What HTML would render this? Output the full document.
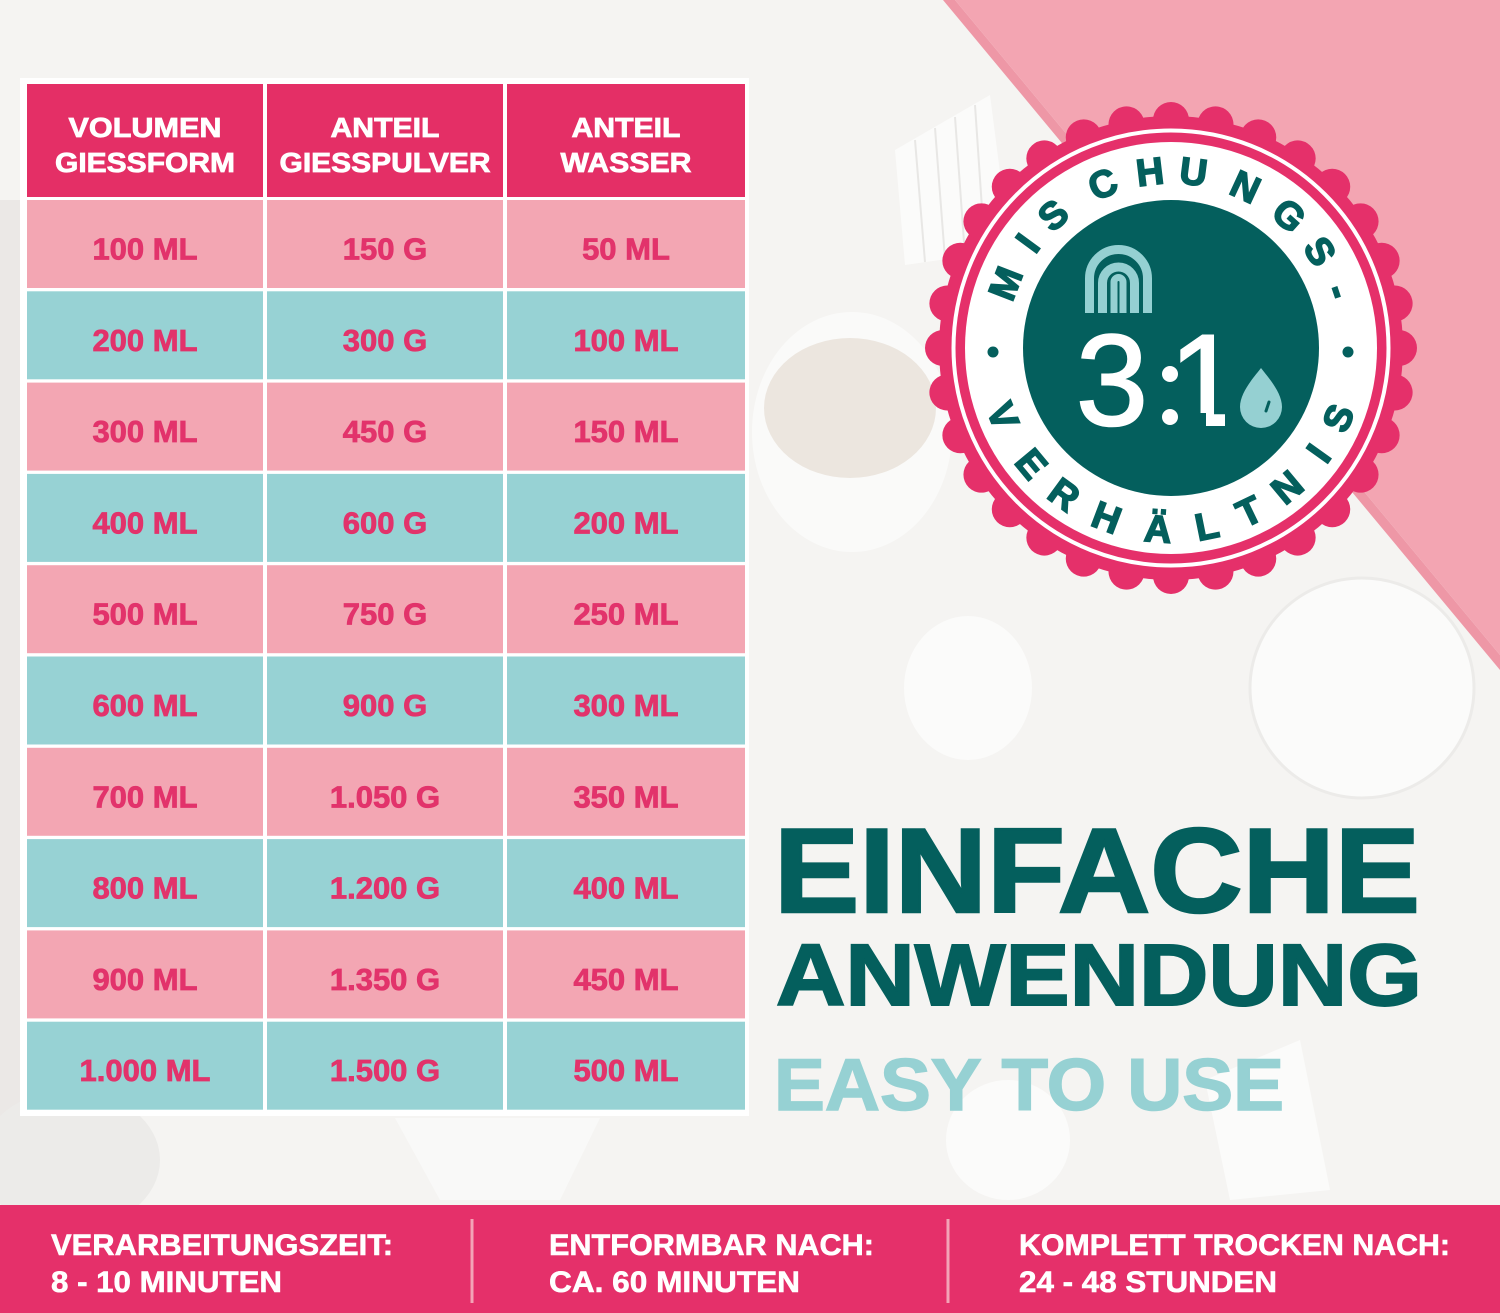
<!DOCTYPE html>
<html>
<head>
<meta charset="utf-8">
<style>
  html,body{margin:0;padding:0;background:#f5f4f2;}
  svg{display:block;}
  text{font-family:"Liberation Sans", sans-serif;font-weight:bold;}
</style>
</head>
<body>
<svg width="1500" height="1313" viewBox="0 0 1500 1313" xmlns="http://www.w3.org/2000/svg">
  <defs>
    <clipPath id="c1" clipPathUnits="userSpaceOnUse">
      <rect x="1150" y="300" width="120" height="113"/>
      <rect x="1206" y="300" width="19" height="140"/>
    </clipPath>
  </defs>
  <!-- background -->
  <rect x="0" y="0" width="1500" height="1313" fill="#f5f4f2"/>
  <rect x="0" y="200" width="20" height="1000" fill="#ebe8e6"/>
  <!-- soft background objects -->
  <ellipse cx="1362" cy="688" rx="112" ry="110" fill="#fbfbfa" stroke="#ecebe9" stroke-width="3"/>
  <ellipse cx="852" cy="432" rx="100" ry="120" fill="#fafaf9"/>
  <ellipse cx="850" cy="408" rx="86" ry="70" fill="#ece6df"/>
  <ellipse cx="968" cy="688" rx="64" ry="72" fill="#fbfbfa"/>
  <ellipse cx="1008" cy="1140" rx="62" ry="60" fill="#fbfbfa"/>
  <polygon points="1205,1080 1300,1040 1330,1190 1230,1200" fill="#fbfbfa"/>
  <polygon points="395,1118 600,1118 560,1200 440,1200" fill="#f9f9f8"/>
  <ellipse cx="70" cy="1160" rx="90" ry="70" fill="#ecebe9"/>
  <polygon points="895,150 990,95 1010,250 905,265" fill="#fbfbfa"/>
  <g stroke="#e8e7e5" stroke-width="2">
    <line x1="915" y1="140" x2="925" y2="262"/>
    <line x1="935" y1="128" x2="945" y2="259"/>
    <line x1="955" y1="117" x2="965" y2="256"/>
    <line x1="975" y1="105" x2="985" y2="253"/>
  </g>

  <!-- pink triangle -->
  <polygon points="943,0 955,0 1500,655 1500,670" fill="#ee97a6"/>
  <polygon points="955,0 1500,0 1500,655" fill="#f3a5b2"/>

  <!-- TABLE -->
  <rect x="20" y="78" width="729" height="1038" fill="#ffffff"/>
  <!-- header -->
  <rect x="27" y="84" width="236" height="113" fill="#e42f66"/>
  <rect x="267" y="84" width="236" height="113" fill="#e42f66"/>
  <rect x="507" y="84" width="238" height="113" fill="#e42f66"/>
  <g fill="#ffffff" stroke="#ffffff" stroke-width="0.8" font-size="28" text-anchor="middle">
    <text x="145" y="137" textLength="153" lengthAdjust="spacingAndGlyphs">VOLUMEN</text>
    <text x="145" y="172" textLength="180" lengthAdjust="spacingAndGlyphs">GIESSFORM</text>
    <text x="385" y="137" textLength="109" lengthAdjust="spacingAndGlyphs">ANTEIL</text>
    <text x="385" y="172" textLength="211" lengthAdjust="spacingAndGlyphs">GIESSPULVER</text>
    <text x="626" y="137" textLength="109" lengthAdjust="spacingAndGlyphs">ANTEIL</text>
    <text x="626" y="172" textLength="131" lengthAdjust="spacingAndGlyphs">WASSER</text>
  </g>

  <!-- rows -->
  <g>
    <g fill="#f3a6b3">
      <rect x="27" y="200" width="236" height="88"/><rect x="267" y="200" width="236" height="88"/><rect x="507" y="200" width="238" height="88"/>
      <rect x="27" y="382.6" width="236" height="88"/><rect x="267" y="382.6" width="236" height="88"/><rect x="507" y="382.6" width="238" height="88"/>
      <rect x="27" y="565.2" width="236" height="88"/><rect x="267" y="565.2" width="236" height="88"/><rect x="507" y="565.2" width="238" height="88"/>
      <rect x="27" y="747.8" width="236" height="88"/><rect x="267" y="747.8" width="236" height="88"/><rect x="507" y="747.8" width="238" height="88"/>
      <rect x="27" y="930.4" width="236" height="88"/><rect x="267" y="930.4" width="236" height="88"/><rect x="507" y="930.4" width="238" height="88"/>
    </g>
    <g fill="#97d2d4">
      <rect x="27" y="291.3" width="236" height="88"/><rect x="267" y="291.3" width="236" height="88"/><rect x="507" y="291.3" width="238" height="88"/>
      <rect x="27" y="473.9" width="236" height="88"/><rect x="267" y="473.9" width="236" height="88"/><rect x="507" y="473.9" width="238" height="88"/>
      <rect x="27" y="656.5" width="236" height="88"/><rect x="267" y="656.5" width="236" height="88"/><rect x="507" y="656.5" width="238" height="88"/>
      <rect x="27" y="839.1" width="236" height="88"/><rect x="267" y="839.1" width="236" height="88"/><rect x="507" y="839.1" width="238" height="88"/>
      <rect x="27" y="1021.7" width="236" height="88"/><rect x="267" y="1021.7" width="236" height="88"/><rect x="507" y="1021.7" width="238" height="88"/>
    </g>
    <g fill="#e2336b" stroke="#e2336b" stroke-width="0.8" font-size="31" text-anchor="middle">
      <text x="145" y="259.5">100 ML</text><text x="385" y="259.5">150 G</text><text x="626" y="259.5">50 ML</text>
      <text x="145" y="350.8">200 ML</text><text x="385" y="350.8">300 G</text><text x="626" y="350.8">100 ML</text>
      <text x="145" y="442.1">300 ML</text><text x="385" y="442.1">450 G</text><text x="626" y="442.1">150 ML</text>
      <text x="145" y="533.4">400 ML</text><text x="385" y="533.4">600 G</text><text x="626" y="533.4">200 ML</text>
      <text x="145" y="624.7">500 ML</text><text x="385" y="624.7">750 G</text><text x="626" y="624.7">250 ML</text>
      <text x="145" y="716">600 ML</text><text x="385" y="716">900 G</text><text x="626" y="716">300 ML</text>
      <text x="145" y="807.3">700 ML</text><text x="385" y="807.3">1.050 G</text><text x="626" y="807.3">350 ML</text>
      <text x="145" y="898.6">800 ML</text><text x="385" y="898.6">1.200 G</text><text x="626" y="898.6">400 ML</text>
      <text x="145" y="989.9">900 ML</text><text x="385" y="989.9">1.350 G</text><text x="626" y="989.9">450 ML</text>
      <text x="145" y="1081.2">1.000 ML</text><text x="385" y="1081.2">1.500 G</text><text x="626" y="1081.2">500 ML</text>
    </g>
  </g>

  <!-- BADGE -->
  <g fill="#e5306a">
    <circle cx="1171" cy="348" r="232"/>
    <circle cx="1171" cy="120" r="18" transform="rotate(0 1171 348)"/>
    <circle cx="1171" cy="120" r="18" transform="rotate(11.25 1171 348)"/>
    <circle cx="1171" cy="120" r="18" transform="rotate(22.5 1171 348)"/>
    <circle cx="1171" cy="120" r="18" transform="rotate(33.75 1171 348)"/>
    <circle cx="1171" cy="120" r="18" transform="rotate(45 1171 348)"/>
    <circle cx="1171" cy="120" r="18" transform="rotate(56.25 1171 348)"/>
    <circle cx="1171" cy="120" r="18" transform="rotate(67.5 1171 348)"/>
    <circle cx="1171" cy="120" r="18" transform="rotate(78.75 1171 348)"/>
    <circle cx="1171" cy="120" r="18" transform="rotate(90 1171 348)"/>
    <circle cx="1171" cy="120" r="18" transform="rotate(101.25 1171 348)"/>
    <circle cx="1171" cy="120" r="18" transform="rotate(112.5 1171 348)"/>
    <circle cx="1171" cy="120" r="18" transform="rotate(123.75 1171 348)"/>
    <circle cx="1171" cy="120" r="18" transform="rotate(135 1171 348)"/>
    <circle cx="1171" cy="120" r="18" transform="rotate(146.25 1171 348)"/>
    <circle cx="1171" cy="120" r="18" transform="rotate(157.5 1171 348)"/>
    <circle cx="1171" cy="120" r="18" transform="rotate(168.75 1171 348)"/>
    <circle cx="1171" cy="120" r="18" transform="rotate(180 1171 348)"/>
    <circle cx="1171" cy="120" r="18" transform="rotate(191.25 1171 348)"/>
    <circle cx="1171" cy="120" r="18" transform="rotate(202.5 1171 348)"/>
    <circle cx="1171" cy="120" r="18" transform="rotate(213.75 1171 348)"/>
    <circle cx="1171" cy="120" r="18" transform="rotate(225 1171 348)"/>
    <circle cx="1171" cy="120" r="18" transform="rotate(236.25 1171 348)"/>
    <circle cx="1171" cy="120" r="18" transform="rotate(247.5 1171 348)"/>
    <circle cx="1171" cy="120" r="18" transform="rotate(258.75 1171 348)"/>
    <circle cx="1171" cy="120" r="18" transform="rotate(270 1171 348)"/>
    <circle cx="1171" cy="120" r="18" transform="rotate(281.25 1171 348)"/>
    <circle cx="1171" cy="120" r="18" transform="rotate(292.5 1171 348)"/>
    <circle cx="1171" cy="120" r="18" transform="rotate(303.75 1171 348)"/>
    <circle cx="1171" cy="120" r="18" transform="rotate(315 1171 348)"/>
    <circle cx="1171" cy="120" r="18" transform="rotate(326.25 1171 348)"/>
    <circle cx="1171" cy="120" r="18" transform="rotate(337.5 1171 348)"/>
    <circle cx="1171" cy="120" r="18" transform="rotate(348.75 1171 348)"/>
  </g>
  <circle cx="1171" cy="348" r="217.5" fill="none" stroke="#ffffff" stroke-width="4"/>
  <circle cx="1171" cy="348" r="206" fill="#ffffff"/>
  <circle cx="1171" cy="348" r="148" fill="#045f5d"/>

  <!-- top arc letters -->
  <g fill="#045f5d" stroke="#045f5d" stroke-width="1.6" font-size="38" text-anchor="middle">
    <text transform="translate(1017.7 288.2) rotate(-68.7)">M</text>
    <text transform="translate(1038.2 250.8) rotate(-53.8)">I</text>
    <text transform="translate(1061.8 225.0) rotate(-41.6)">S</text>
    <text transform="translate(1107.8 196.1) rotate(-22.6)">C</text>
    <text transform="translate(1151.5 184.7) rotate(-6.8)">H</text>
    <text transform="translate(1191.9 184.8) rotate(7.3)">U</text>
    <text transform="translate(1240.0 198.7) rotate(24.8)">N</text>
    <text transform="translate(1280.4 225.2) rotate(41.7)">G</text>
    <text transform="translate(1309.0 258.4) rotate(57)">S</text>
    <text transform="translate(1326.9 295.5) rotate(71.4)">-</text>
  </g>
  <!-- bottom arc letters -->
  <g fill="#045f5d" stroke="#045f5d" stroke-width="1.6" font-size="38" text-anchor="middle">
    <text transform="translate(990.7 420.9) rotate(68)">V</text>
    <text transform="translate(1021.4 472.2) rotate(50.3)">E</text>
    <text transform="translate(1056.4 505.2) rotate(36.1)">R</text>
    <text transform="translate(1101.9 529.8) rotate(20.8)">H</text>
    <text transform="translate(1157.1 542.0) rotate(4.1)">Ä</text>
    <text transform="translate(1209.5 538.7) rotate(-11.4)">L</text>
    <text transform="translate(1255.0 523.4) rotate(-25.6)">T</text>
    <text transform="translate(1295.5 497.4) rotate(-39.8)">N</text>
    <text transform="translate(1329.3 460.9) rotate(-54.5)">I</text>
    <text transform="translate(1350.4 423.1) rotate(-67.3)">S</text>
  </g>
  <circle cx="993" cy="352" r="5.5" fill="#045f5d"/>
  <circle cx="1348" cy="352" r="5.5" fill="#045f5d"/>

  <!-- arch icon -->
  <g fill="none" stroke="#95d0d2" stroke-width="9">
    <path d="M1089.5,313 V278.5 A29,29 0 0 1 1147.5,278.5 V313"/>
    <path d="M1102.5,313 V283 A16,16 0 0 1 1134.5,283 V313"/>
  </g>
  <path d="M1114,313 V282 A4.5,4.5 0 0 1 1123,282 V313" fill="none" stroke="#95d0d2" stroke-width="7"/>

  <!-- 3:1 -->
  <g fill="#ffffff" stroke="#ffffff" stroke-width="2" font-size="130" text-anchor="middle">
    <text x="1112" y="425" style="font-weight:normal">3</text>
    <text x="1205" y="425" style="font-weight:normal" clip-path="url(#c1)">1</text>
  </g>
  <circle cx="1170" cy="374" r="8" fill="#ffffff"/>
  <circle cx="1170" cy="417" r="8" fill="#ffffff"/>
  <!-- drop -->
  <path d="M1261,368 C1255,376 1240,392 1240,407 A21,21 0 0 0 1282,407 C1282,392 1267,376 1261,368 Z" fill="#95d0d2"/>
  <line x1="1266" y1="411" x2="1269" y2="402" stroke="#045f5d" stroke-width="3" stroke-linecap="round"/>

  <!-- headings -->
  <text x="774" y="912" font-size="120" fill="#045f5d" stroke="#045f5d" stroke-width="2.5" textLength="646" lengthAdjust="spacingAndGlyphs">EINFACHE</text>
  <text x="776" y="1005" font-size="87" fill="#045f5d" stroke="#045f5d" stroke-width="2" textLength="646" lengthAdjust="spacingAndGlyphs">ANWENDUNG</text>
  <text x="774" y="1110" font-size="73" fill="#96d1d3" stroke="#96d1d3" stroke-width="1.5" textLength="510" lengthAdjust="spacingAndGlyphs">EASY TO USE</text>

  <!-- bottom bar -->
  <rect x="0" y="1205" width="1500" height="108" fill="#e5306a"/>
  <line x1="472" y1="1219" x2="472" y2="1303" stroke="#f3a3b6" stroke-width="3"/>
  <line x1="948" y1="1219" x2="948" y2="1303" stroke="#f3a3b6" stroke-width="3"/>
  <g fill="#ffffff" stroke="#ffffff" stroke-width="0.6" font-size="30">
    <text x="51" y="1255" textLength="342" lengthAdjust="spacingAndGlyphs">VERARBEITUNGSZEIT:</text>
    <text x="51" y="1292" textLength="231" lengthAdjust="spacingAndGlyphs">8 - 10 MINUTEN</text>
    <text x="549" y="1255" textLength="325" lengthAdjust="spacingAndGlyphs">ENTFORMBAR NACH:</text>
    <text x="549" y="1292" textLength="251" lengthAdjust="spacingAndGlyphs">CA. 60 MINUTEN</text>
    <text x="1019" y="1255" textLength="431" lengthAdjust="spacingAndGlyphs">KOMPLETT TROCKEN NACH:</text>
    <text x="1019" y="1292" textLength="258" lengthAdjust="spacingAndGlyphs">24 - 48 STUNDEN</text>
  </g>
</svg>
</body>
</html>
